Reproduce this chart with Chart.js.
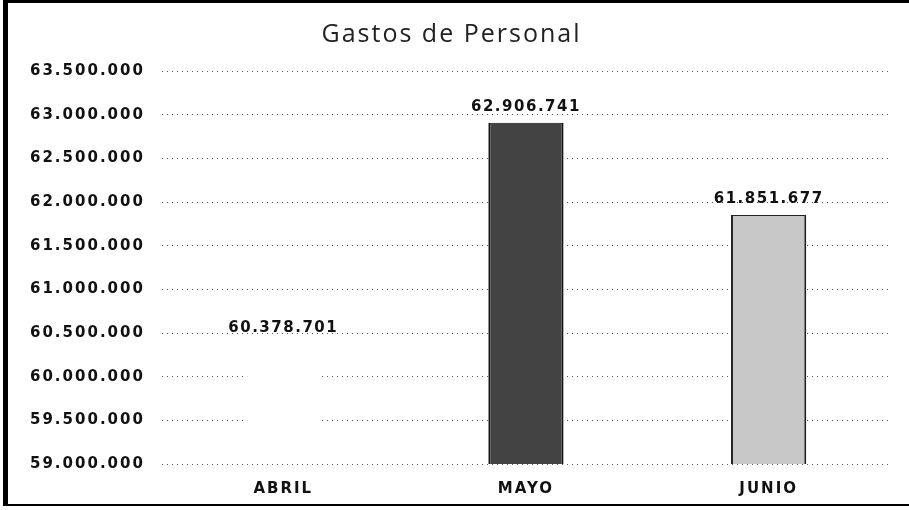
<!DOCTYPE html>
<html>
<head>
<meta charset="utf-8">
<script src="https://cdn.jsdelivr.net/npm/chart.js@4.4.0/dist/chart.umd.min.js"></script>
<style>
  html, body { margin: 0; padding: 0; background: #fff; }
  #wrap { position: relative; width: 909px; height: 510px; }
  #frame {
    position: absolute; left: 3px; top: 0; width: 906px; height: 506px;
    border-left: 5px solid #000; border-top: 3px solid #000; border-bottom: 2px solid #000;
    box-sizing: border-box; pointer-events: none;
  }
</style>
</head>
<body>
<div id="wrap">
  <canvas id="chart" width="909" height="510"></canvas>
  <div id="frame"></div>
</div>
<script>
const meses = ["ABRIL", "MAYO", "JUNIO"];
const gastos = [60378701, 62906741, 61851677];
const ejeMin = 59000000;
const ejeMax = 63500000;
const ejePaso = 500000;

const fmt = v => Math.round(v).toString().replace(/\B(?=(\d{3})+(?!\d))/g, ".");

// wide, Verdana-like lettering as in the original
const spacing = {
  id: "spacing",
  beforeUpdate(chart) { chart.ctx.letterSpacing = "2px"; },
  beforeDraw(chart) { chart.ctx.letterSpacing = "2px"; }
};

const valueLabels = {
  id: "valueLabels",
  afterDatasetsDraw(chart) {
    const ctx = chart.ctx;
    const meta = chart.getDatasetMeta(0);
    ctx.save();
    ctx.letterSpacing = "1.5px";
    ctx.font = "bold 15px 'DejaVu Sans'";
    ctx.fillStyle = "#111";
    ctx.textAlign = "center";
    ctx.textBaseline = "bottom";
    meta.data.forEach((bar, i) => {
      ctx.fillText(fmt(gastos[i]), bar.x, bar.y - 8);
    });
    ctx.restore();
  }
};

new Chart(document.getElementById("chart"), {
  type: "bar",
  data: {
    labels: meses,
    datasets: [{
      data: gastos,
      backgroundColor: ["#ffffff", "#434343", "#c8c8c8"],
      borderColor: ["#ffffff", "#111111", "#222222"],
      borderWidth: { left: 2, right: 2, top: 1, bottom: 0 },
      barPercentage: 0.62,
      categoryPercentage: 0.5
    }]
  },
  options: {
    responsive: false,
    animation: false,
    layout: { padding: { left: 13, right: 19, top: 8, bottom: 4 } },
    plugins: {
      legend: { display: false },
      tooltip: { enabled: false },
      title: {
        display: true,
        text: "Gastos de Personal",
        color: "#222",
        font: { family: "'Open Sans'", size: 25, weight: "normal" },
        padding: { top: 12, bottom: 21 }
      }
    },
    scales: {
      x: {
        grid: { display: false },
        border: { display: false },
        ticks: {
          color: "#111",
          padding: 8,
          font: { family: "'DejaVu Sans'", size: 15, weight: "bold" }
        }
      },
      y: {
        min: ejeMin,
        max: ejeMax,
        border: { display: false, dash: [1, 4] },
        grid: { color: "#555", lineWidth: 1, tickLength: 0 },
        ticks: {
          stepSize: ejePaso,
          color: "#111",
          padding: 17,
          font: { family: "'DejaVu Sans'", size: 15, weight: "bold" },
          callback: v => fmt(v)
        }
      }
    }
  },
  plugins: [spacing, valueLabels]
});
</script>
</body>
</html>
